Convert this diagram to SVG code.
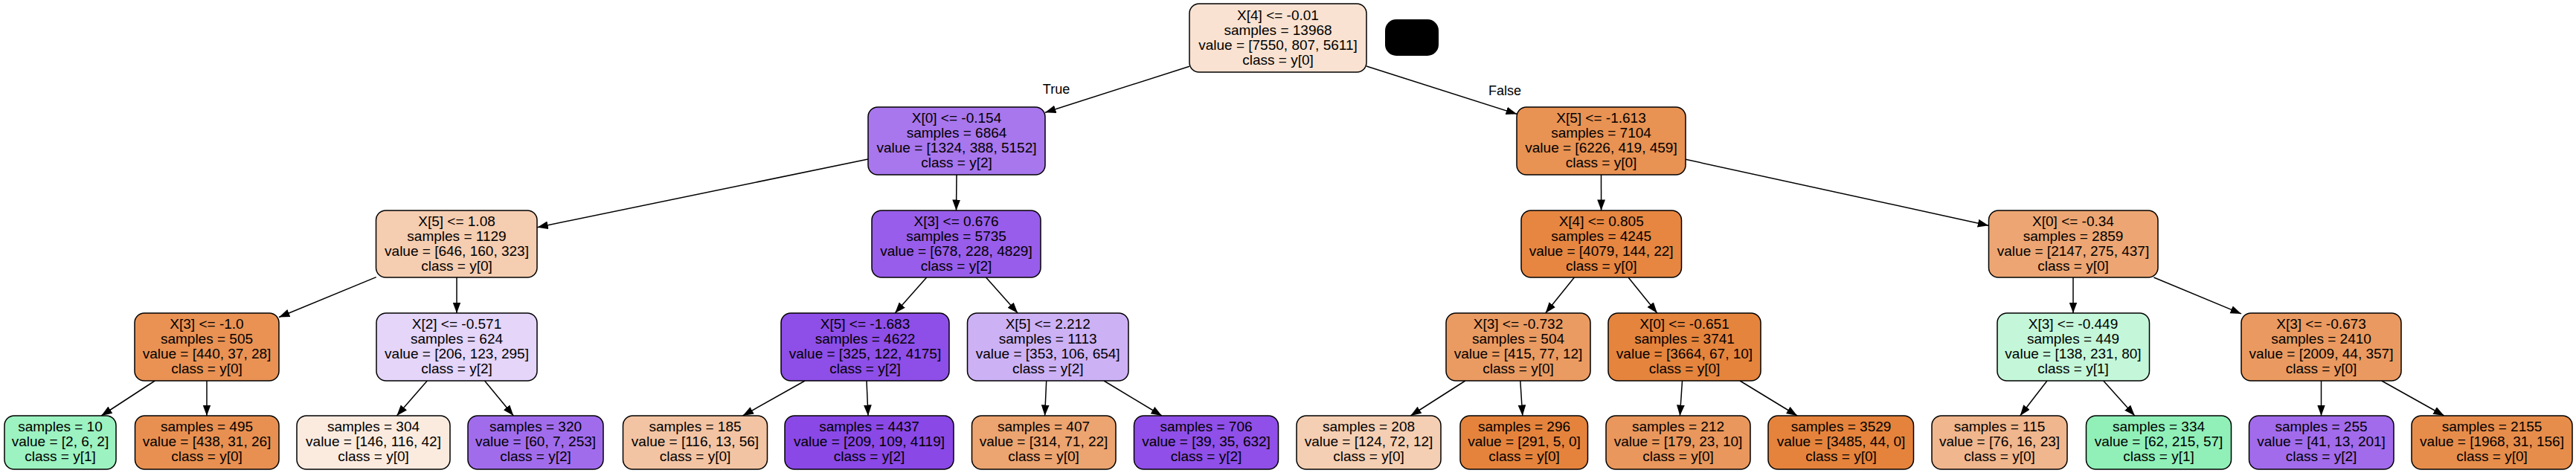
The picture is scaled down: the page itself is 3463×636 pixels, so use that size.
<svg xmlns="http://www.w3.org/2000/svg" width="3463" height="636" viewBox="0 0 3463 636">
<style>
.n rect{stroke:#000;stroke-width:1.5}
text{font-family:"Liberation Sans",Arial,Helvetica,sans-serif;font-size:19px;fill:#000;text-anchor:middle}
.e line{stroke:#000;stroke-width:1.5;marker-end:url(#ah)}
.lbl{font-size:18px}
</style>
<defs>
<marker id="ah" markerUnits="userSpaceOnUse" markerWidth="16" markerHeight="12" refX="14.5" refY="5.4" orient="auto">
<path d="M0,0 L14.5,5.4 L0,10.8 z" fill="#000"/>
</marker>
</defs>
<rect width="3463" height="636" fill="#fff"/>
<g id="connectors" class="e">
<line x1="1599" y1="89.2" x2="1405" y2="151.3"/>
<line x1="1837" y1="89" x2="2039" y2="153.3"/>
<line x1="1167" y1="214" x2="722.3" y2="305.7"/>
<line x1="1286" y1="235" x2="1285.5" y2="283"/>
<line x1="2152.5" y1="235" x2="2152.6" y2="283"/>
<line x1="2266" y1="214.3" x2="2673.3" y2="303.2"/>
<line x1="505.7" y1="372.6" x2="375" y2="426.5"/>
<line x1="614" y1="373" x2="614" y2="421"/>
<line x1="1245.7" y1="373" x2="1203.2" y2="421"/>
<line x1="1325.5" y1="373" x2="1368.2" y2="421"/>
<line x1="2116.4" y1="373" x2="2077.7" y2="421"/>
<line x1="2189" y1="373" x2="2227.8" y2="421"/>
<line x1="2787" y1="373" x2="2787" y2="421"/>
<line x1="2895.4" y1="373" x2="3013" y2="421.9"/>
<line x1="208.2" y1="512" x2="136.2" y2="559"/>
<line x1="278" y1="512" x2="278" y2="559"/>
<line x1="574.3" y1="512" x2="533.4" y2="559"/>
<line x1="651.5" y1="512" x2="690.3" y2="559"/>
<line x1="1082.1" y1="512" x2="998.5" y2="559"/>
<line x1="1165" y1="512" x2="1167" y2="559"/>
<line x1="1406.7" y1="512" x2="1404.6" y2="559"/>
<line x1="1484" y1="512" x2="1561.9" y2="559"/>
<line x1="1969.8" y1="512" x2="1896.3" y2="559"/>
<line x1="2043.8" y1="512" x2="2046.8" y2="559"/>
<line x1="2261.5" y1="512" x2="2258.4" y2="559"/>
<line x1="2339" y1="512" x2="2416.1" y2="559"/>
<line x1="2752" y1="512" x2="2715.7" y2="559"/>
<line x1="2827.7" y1="512" x2="2869.8" y2="559"/>
<line x1="3120.5" y1="512" x2="3120.5" y2="559"/>
<line x1="3201.7" y1="512" x2="3285.7" y2="559"/>
<text class="lbl" x="1420" y="125.7">True</text>
<text class="lbl" x="2023" y="128.3">False</text>
</g>
<g id="legend"><rect x="1862" y="26" width="72" height="49" rx="15" fill="#000"/></g>
<g id="n0" class="n"><rect x="1599" y="5" width="238" height="92" rx="13" fill="#f9e2d1"/>
<text x="1718" y="26.7">X[4] &lt;= -0.01</text><text x="1718" y="46.7">samples = 13968</text><text x="1718" y="66.7">value = [7550, 807, 5611]</text><text x="1718" y="86.7">class = y[0]</text></g>
<g id="n1" class="n"><rect x="1167" y="144" width="238" height="91" rx="13" fill="#a876ed"/>
<text x="1286" y="165">X[0] &lt;= -0.154</text><text x="1286" y="185">samples = 6864</text><text x="1286" y="205">value = [1324, 388, 5152]</text><text x="1286" y="225">class = y[2]</text></g>
<g id="n2" class="n"><rect x="2039" y="144" width="227" height="91" rx="13" fill="#e89253"/>
<text x="2152.5" y="165">X[5] &lt;= -1.613</text><text x="2152.5" y="185">samples = 7104</text><text x="2152.5" y="205">value = [6226, 419, 459]</text><text x="2152.5" y="225">class = y[0]</text></g>
<g id="n3" class="n"><rect x="505.5" y="283" width="216.5" height="90" rx="13" fill="#f5cdb0"/>
<text x="614" y="303.5">X[5] &lt;= 1.08</text><text x="614" y="323.5">samples = 1129</text><text x="614" y="343.5">value = [646, 160, 323]</text><text x="614" y="363.5">class = y[0]</text></g>
<g id="n4" class="n"><rect x="1172" y="283" width="227" height="90" rx="13" fill="#985dea"/>
<text x="1285.5" y="303.5">X[3] &lt;= 0.676</text><text x="1285.5" y="323.5">samples = 5735</text><text x="1285.5" y="343.5">value = [678, 228, 4829]</text><text x="1285.5" y="363.5">class = y[2]</text></g>
<g id="n5" class="n"><rect x="2045" y="283" width="215.5" height="90" rx="13" fill="#e68641"/>
<text x="2152.7" y="303.5">X[4] &lt;= 0.805</text><text x="2152.7" y="323.5">samples = 4245</text><text x="2152.7" y="343.5">value = [4079, 144, 22]</text><text x="2152.7" y="363.5">class = y[0]</text></g>
<g id="n6" class="n"><rect x="2673.5" y="283" width="227.5" height="90" rx="13" fill="#eda673"/>
<text x="2787" y="303.5">X[0] &lt;= -0.34</text><text x="2787" y="323.5">samples = 2859</text><text x="2787" y="343.5">value = [2147, 275, 437]</text><text x="2787" y="363.5">class = y[0]</text></g>
<g id="n7" class="n"><rect x="181" y="421" width="194" height="91" rx="13" fill="#e99254"/>
<text x="278" y="442">X[3] &lt;= -1.0</text><text x="278" y="462">samples = 505</text><text x="278" y="482">value = [440, 37, 28]</text><text x="278" y="502">class = y[0]</text></g>
<g id="n8" class="n"><rect x="506" y="421" width="216" height="91" rx="13" fill="#e4d5f9"/>
<text x="614" y="442">X[2] &lt;= -0.571</text><text x="614" y="462">samples = 624</text><text x="614" y="482">value = [206, 123, 295]</text><text x="614" y="502">class = y[2]</text></g>
<g id="n9" class="n"><rect x="1050" y="421" width="226" height="91" rx="13" fill="#8e4ee8"/>
<text x="1163" y="442">X[5] &lt;= -1.683</text><text x="1163" y="462">samples = 4622</text><text x="1163" y="482">value = [325, 122, 4175]</text><text x="1163" y="502">class = y[2]</text></g>
<g id="n10" class="n"><rect x="1300.5" y="421" width="216.5" height="91" rx="13" fill="#cdb1f5"/>
<text x="1408.7" y="442">X[5] &lt;= 2.212</text><text x="1408.7" y="462">samples = 1113</text><text x="1408.7" y="482">value = [353, 106, 654]</text><text x="1408.7" y="502">class = y[2]</text></g>
<g id="n11" class="n"><rect x="1944" y="421" width="194" height="91" rx="13" fill="#ea9b62"/>
<text x="2041" y="442">X[3] &lt;= -0.732</text><text x="2041" y="462">samples = 504</text><text x="2041" y="482">value = [415, 77, 12]</text><text x="2041" y="502">class = y[0]</text></g>
<g id="n12" class="n"><rect x="2162" y="421" width="205" height="91" rx="13" fill="#e5843d"/>
<text x="2264.5" y="442">X[0] &lt;= -0.651</text><text x="2264.5" y="462">samples = 3741</text><text x="2264.5" y="482">value = [3664, 67, 10]</text><text x="2264.5" y="502">class = y[0]</text></g>
<g id="n13" class="n"><rect x="2685" y="421" width="204.5" height="91" rx="13" fill="#c4f7d9"/>
<text x="2787" y="442">X[3] &lt;= -0.449</text><text x="2787" y="462">samples = 449</text><text x="2787" y="482">value = [138, 231, 80]</text><text x="2787" y="502">class = y[1]</text></g>
<g id="n14" class="n"><rect x="3013" y="421" width="215" height="91" rx="13" fill="#ea9a60"/>
<text x="3120.5" y="442">X[3] &lt;= -0.673</text><text x="3120.5" y="462">samples = 2410</text><text x="3120.5" y="482">value = [2009, 44, 357]</text><text x="3120.5" y="502">class = y[0]</text></g>
<g id="n15" class="n"><rect x="6" y="559" width="150" height="72" rx="13" fill="#9cf2c0"/>
<text x="81" y="580">samples = 10</text><text x="81" y="600">value = [2, 6, 2]</text><text x="81" y="620">class = y[1]</text></g>
<g id="n16" class="n"><rect x="181.5" y="559" width="193.5" height="72" rx="13" fill="#e89051"/>
<text x="278" y="580">samples = 495</text><text x="278" y="600">value = [438, 31, 26]</text><text x="278" y="620">class = y[0]</text></g>
<g id="n17" class="n"><rect x="399" y="559" width="206" height="72" rx="13" fill="#fbebdf"/>
<text x="502" y="580">samples = 304</text><text x="502" y="600">value = [146, 116, 42]</text><text x="502" y="620">class = y[0]</text></g>
<g id="n18" class="n"><rect x="629" y="559" width="182" height="72" rx="13" fill="#a16cec"/>
<text x="720" y="580">samples = 320</text><text x="720" y="600">value = [60, 7, 253]</text><text x="720" y="620">class = y[2]</text></g>
<g id="n19" class="n"><rect x="837.5" y="559" width="194" height="72" rx="13" fill="#f3c4a3"/>
<text x="934.5" y="580">samples = 185</text><text x="934.5" y="600">value = [116, 13, 56]</text><text x="934.5" y="620">class = y[0]</text></g>
<g id="n20" class="n"><rect x="1055" y="559" width="227" height="72" rx="13" fill="#8a48e7"/>
<text x="1168.5" y="580">samples = 4437</text><text x="1168.5" y="600">value = [209, 109, 4119]</text><text x="1168.5" y="620">class = y[2]</text></g>
<g id="n21" class="n"><rect x="1306.5" y="559" width="193.5" height="72" rx="13" fill="#eca470"/>
<text x="1403" y="580">samples = 407</text><text x="1403" y="600">value = [314, 71, 22]</text><text x="1403" y="620">class = y[0]</text></g>
<g id="n22" class="n"><rect x="1524.5" y="559" width="194" height="72" rx="13" fill="#8f4fe8"/>
<text x="1621.5" y="580">samples = 706</text><text x="1621.5" y="600">value = [39, 35, 632]</text><text x="1621.5" y="620">class = y[2]</text></g>
<g id="n23" class="n"><rect x="1743" y="559" width="194" height="72" rx="13" fill="#f5cfb3"/>
<text x="1840" y="580">samples = 208</text><text x="1840" y="600">value = [124, 72, 12]</text><text x="1840" y="620">class = y[0]</text></g>
<g id="n24" class="n"><rect x="1963" y="559" width="171.5" height="72" rx="13" fill="#e5833c"/>
<text x="2049" y="580">samples = 296</text><text x="2049" y="600">value = [291, 5, 0]</text><text x="2049" y="620">class = y[0]</text></g>
<g id="n25" class="n"><rect x="2159" y="559" width="194" height="72" rx="13" fill="#e9975c"/>
<text x="2256" y="580">samples = 212</text><text x="2256" y="600">value = [179, 23, 10]</text><text x="2256" y="620">class = y[0]</text></g>
<g id="n26" class="n"><rect x="2377" y="559" width="195.5" height="72" rx="13" fill="#e5833c"/>
<text x="2475" y="580">samples = 3529</text><text x="2475" y="600">value = [3485, 44, 0]</text><text x="2475" y="620">class = y[0]</text></g>
<g id="n27" class="n"><rect x="2597" y="559" width="182" height="72" rx="13" fill="#f0b68d"/>
<text x="2688" y="580">samples = 115</text><text x="2688" y="600">value = [76, 16, 23]</text><text x="2688" y="620">class = y[0]</text></g>
<g id="n28" class="n"><rect x="2804.5" y="559" width="195" height="72" rx="13" fill="#90f0b8"/>
<text x="2902" y="580">samples = 334</text><text x="2902" y="600">value = [62, 215, 57]</text><text x="2902" y="620">class = y[1]</text></g>
<g id="n29" class="n"><rect x="3023.5" y="559" width="194.5" height="72" rx="13" fill="#a16beb"/>
<text x="3120.5" y="580">samples = 255</text><text x="3120.5" y="600">value = [41, 13, 201]</text><text x="3120.5" y="620">class = y[2]</text></g>
<g id="n30" class="n"><rect x="3242" y="559" width="216" height="72" rx="13" fill="#e78d4b"/>
<text x="3350" y="580">samples = 2155</text><text x="3350" y="600">value = [1968, 31, 156]</text><text x="3350" y="620">class = y[0]</text></g>
</svg>
